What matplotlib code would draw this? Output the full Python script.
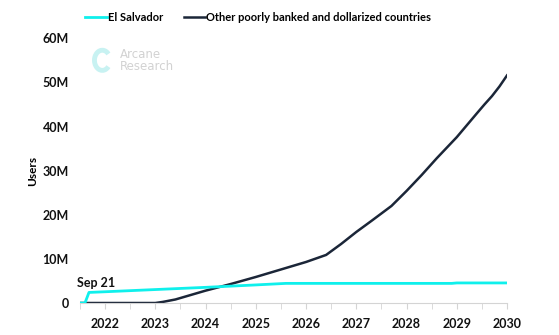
import matplotlib.pyplot as plt
from matplotlib.patches import Arc
from matplotlib.ticker import FuncFormatter, MultipleLocator

plt.rcParams['font.family'] = ['Lato', 'DejaVu Sans']

# decimal years / millions of users
years_sv = [2021.5, 2021.6, 2021.68, 2022.0, 2023.0, 2024.0, 2025.0, 2025.6,
            2026.5, 2027.5, 2028.5, 2028.9, 2029.0, 2030.0]
users_sv = [0, 0, 2.4, 2.55, 3.05, 3.55, 4.1, 4.45,
            4.45, 4.45, 4.45, 4.45, 4.55, 4.55]

years_ot = [2021.5, 2023.0, 2023.15, 2023.4, 2024.0, 2024.5, 2025.0, 2025.5,
            2026.0, 2026.4, 2026.7, 2027.0, 2027.3, 2027.7, 2028.0, 2028.3,
            2028.6, 2029.0, 2029.2, 2029.4, 2029.55, 2029.7, 2029.85, 2030.0]
users_ot = [0, 0, 0.25, 0.8, 2.8, 4.3, 5.9, 7.6,
            9.3, 10.9, 13.4, 16.1, 18.6, 22.0, 25.4, 29.0,
            32.8, 37.6, 40.3, 43.0, 45.0, 46.9, 49.1, 51.6]

year_ticks = [2022, 2023, 2024, 2025, 2026, 2027, 2028, 2029, 2030]
y_ticks = [0, 10, 20, 30, 40, 50, 60]

cyan = '#0ff0ec'
navy = '#1b2638'

fig = plt.figure(figsize=(5.59, 3.35), dpi=100)
ax = fig.add_axes([0.143, 0.0955, 0.764, 0.79])

ax.plot(years_sv, users_sv, color=cyan, lw=2.0, label='El Salvador', zorder=3)
ax.plot(years_ot, users_ot, color=navy, lw=1.8,
        label='Other poorly banked and dollarized countries', zorder=2)

ax.set_xlim(2021.5, 2030)
ax.set_ylim(0, 60)
ax.set_xticks(year_ticks)
ax.xaxis.set_minor_locator(MultipleLocator(0.5))
ax.set_yticks(y_ticks)
ax.yaxis.set_major_formatter(FuncFormatter(lambda v, p: '0' if v == 0 else f'{int(v)}M'))

for s in ['top', 'right', 'left']:
    ax.spines[s].set_visible(False)
ax.spines['bottom'].set_color('#d4d4d4')
ax.tick_params(axis='x', which='both', length=4, color='#d4d4d4',
               labelsize=9, pad=7)
ax.tick_params(axis='y', length=0, labelsize=9, pad=8)
for lab in ax.get_xticklabels() + ax.get_yticklabels():
    lab.set_fontweight('bold')
    lab.set_color('#111111')

ax.set_ylabel('Users', fontsize=8.5, fontweight='bold')
ax.yaxis.set_label_coords(-0.098, 0.5)

ax.text(2021.82, 4.6, 'Sep 21', fontsize=9, ha='center', va='center',
        fontweight='bold', color='#111111')

leg = fig.legend(loc='upper left', bbox_to_anchor=(0.135, 0.995), ncol=2,
                 frameon=False, fontsize=8, handlelength=1.9,
                 handletextpad=0.1, columnspacing=1.9)
for t in leg.get_texts():
    t.set_fontweight('bold')

# watermark
fig.add_artist(Arc((0.183, 0.82), 0.028, 0.06, theta1=60, theta2=300,
                   transform=fig.transFigure, color='#c8f2f2', lw=3.5))
fig.text(0.215, 0.82, 'Arcane\nResearch', fontsize=8.5, color='#d2d2d2',
         ha='left', va='center', linespacing=0.9, family='DejaVu Sans')

fig.savefig('out.png', dpi=100)
